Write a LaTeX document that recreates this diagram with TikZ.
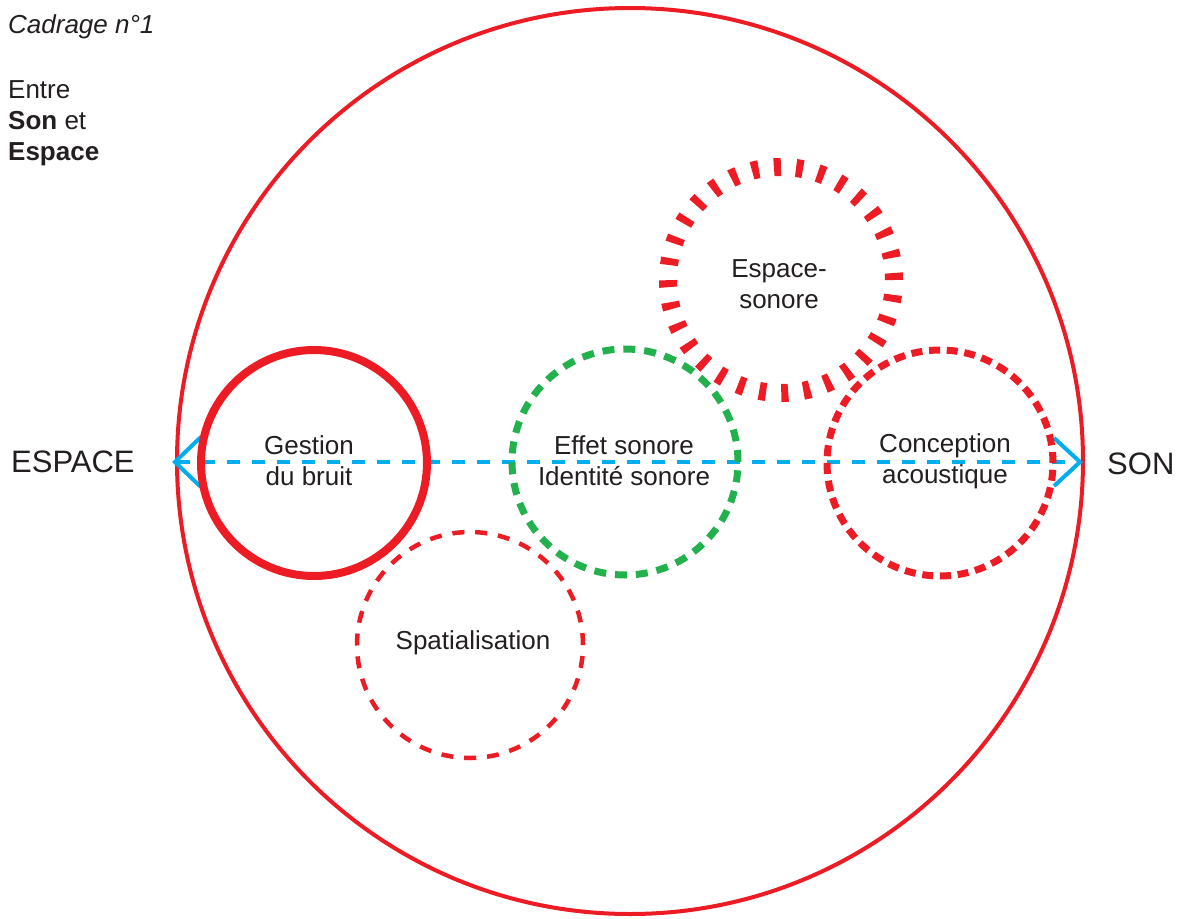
\documentclass[tikz,border=0pt]{standalone}
\usepackage{fontspec}
\setmainfont{Liberation Sans}
\usetikzlibrary{arrows.meta}
\definecolor{cred}{HTML}{ED1C24}
\definecolor{cgreen}{HTML}{22B14C}
\definecolor{cblue}{HTML}{00AEEF}
\definecolor{ctext}{HTML}{231F20}
\tikzset{
  ring/.style={circle, minimum size=226pt, inner sep=0pt, draw=cred},
  lbl/.style={font=\fontsize{26}{31}\selectfont, text=ctext, align=center, inner sep=0pt},
  big/.style={font=\fontsize{31}{36}\selectfont, text=ctext, inner sep=0pt},
}
\begin{document}
\begin{tikzpicture}[x=1pt,y=-1pt]
\useasboundingbox[fill=white] (0,0) rectangle (1187,919);
% outer circle
\node[circle, draw=cred, line width=4pt, minimum size=906pt, inner sep=0pt] (outer) at (630,461) {};
% axis arrow
\coordinate (L) at (172,462);
\coordinate (R) at (1083,462);
\draw[cblue, line width=4pt, dash pattern=on 13pt off 12pt,
  {Straight Barb[length=26pt,width=50pt,line width=4pt]}-{Straight Barb[length=26pt,width=48pt,line width=4pt]}]
  (L) -- (R);
% circles
\node[ring, line width=8pt] (gestion) at (314,463) {};
\node[ring, line width=4.5pt, dash pattern=on 12pt off 10.9pt] (spat) at (470,645) {};
\node[ring, draw=cgreen, line width=7pt, dash pattern=on 12pt off 8.9pt] (effet) at (625,462) {};
\node[ring, line width=7pt, dash pattern=on 11pt off 6.75pt] (concep) at (940,463) {};
\node[ring, line width=18pt, dash pattern=on 7pt off 15.2pt] (espson) at (781,280) {};
% labels (base anchor = baseline of last line)
\node[lbl, anchor=base] (tgestion) at (309,485) {Gestion\\du bruit};
\node[lbl, anchor=base] (tspat) at (473,649) {Spatialisation};
\node[lbl, anchor=base] (teffet) at (624,485) {Effet sonore\\Identité sonore};
\node[lbl, anchor=base] (tconcep) at (945,483) {Conception\\acoustique};
\node[lbl, anchor=base] (tespson) at (779,308) {Espace-\\sonore};
\node[big, anchor=base west] (tespace) at (11,472) {ESPACE};
\node[big, anchor=base west] (tson) at (1107,474) {SON};
% top-left text
\node[lbl, anchor=base west, font=\fontsize{26}{31}\selectfont\itshape] (title) at (8,33) {Cadrage n°1};
\node[lbl, anchor=base west, align=left] (entre) at (8,160) {Entre\\\textbf{Son} et\\\textbf{Espace}};
\end{tikzpicture}
\end{document}
